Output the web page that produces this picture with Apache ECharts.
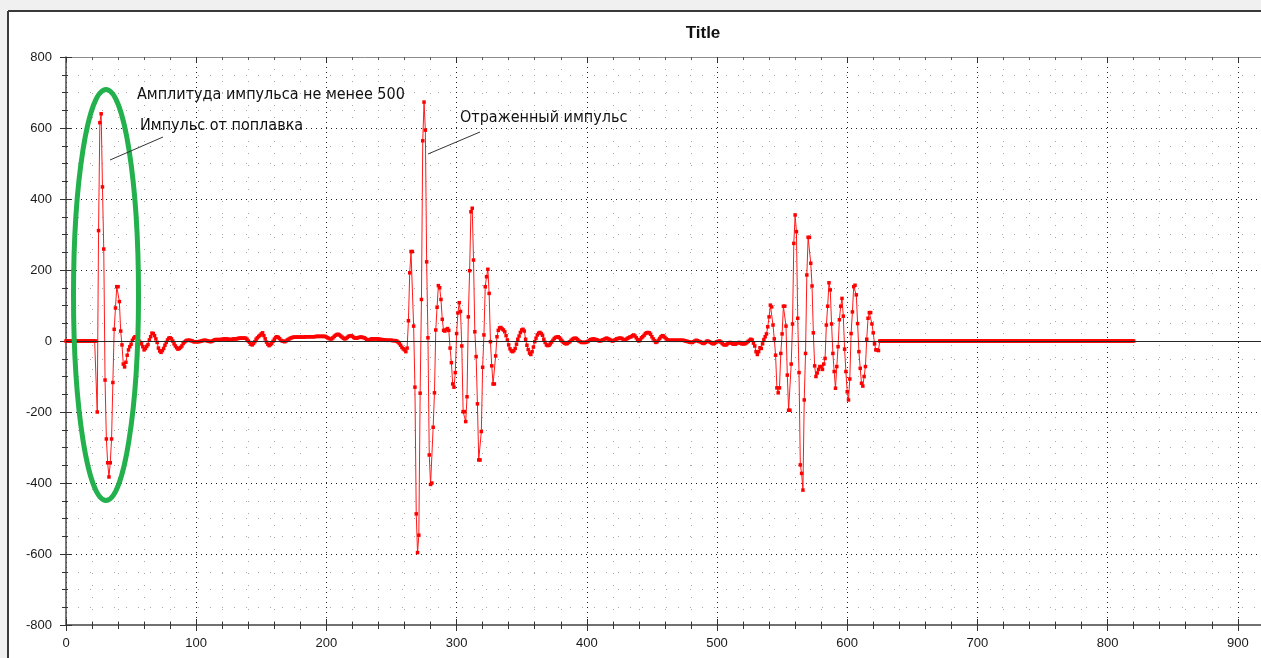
<!DOCTYPE html>
<html>
<head>
<meta charset="utf-8">
<script src="https://cdn.jsdelivr.net/npm/echarts@6.0.0/dist/echarts.min.js"></script>
<style>
html, body { margin: 0; padding: 0; background: #fff; }
#chart { width: 1261px; height: 658px; }
</style>
</head>
<body>
<div id="chart"></div>
<script>
// sample index of the first value, one sample per unit on x
var sampleStart = 0;

// flat start, samples 0..23
var leadZeros = [
  0,0,0,0,0,0,0,0,0,0,0,0,0,0,0,0,0,0,0,0,0,0,0,0
];
// pulse from the float, samples 24..45
var pulseFloat = [
  -200,311,615,640,434,259,-110,-276,-343,-383,-343,-276,-117,33,93,153,153,111,28,-11,-65,-73
];
// ringing after the first pulse, samples 46..261
var rippleFirst = [
  -60,-40,-25,-16,
  -9,2,8,12,12,6,0,-4,-8,-16,
  -25,-21,-15,-10,3,12,22,21,15,6,
  -4,-20,-28,-32,-27,-21,-12,-4,3,8,
  9,6,0,-8,-14,-19,-23,-21,-18,-14,
  -7,-3,0,2,2,2,1,0,-2,-2,
  -2,-2,-2,-1,0,1,2,2,1,0,
  -1,-2,-1,1,3,4,4,4,4,4,
  5,5,6,6,5,5,4,4,5,6,
  6,6,7,8,8,8,8,8,8,5,
  0,-4,-9,-11,-7,-2,5,9,13,16,
  20,23,15,6,-3,-9,-13,-10,-7,-1,
  5,10,12,10,7,2,0,-1,-2,0,
  3,5,7,9,10,11,11,11,11,11,
  11,11,11,11,12,12,12,12,12,12,
  12,12,13,13,13,13,13,13,13,13,
  11,9,7,6,6,9,13,16,18,19,
  17,14,11,8,6,7,10,13,14,15,
  13,10,8,8,9,10,11,11,10,9,
  7,4,2,3,5,6,6,6,6,6,
  5,5,4,4,3,3,2,2,2,2,
  2,1,1,1,0,-3,-7,-12,-18,-22,
  -25,-30
];
// reflected pulse, samples 262..333
var pulseReflected = [
  -20,57,192,252,252,42,-130,-487,
  -596,-547,-147,117,564,673,594,223,9,-321,
  -404,-400,-243,-146,31,95,156,150,117,61,
  30,28,32,35,30,-20,-61,-121,-130,-89,
  21,79,108,83,-14,-199,-199,-227,-157,68,
  198,364,374,228,26,-44,-177,-335,-335,-255,
  -74,17,153,181,202,134,-2,-70,-121,-121,
  -42,12,30,37
];
// ringing after the reflected pulse, samples 334..536
var rippleSecond = [
  38,34,31,26,15,3,
  -11,-22,-28,-30,-27,-21,-9,5,14,24,
  31,33,28,5,-12,-24,-34,-38,-30,-17,
  -2,8,17,22,24,21,16,5,-4,-11,
  -13,-12,-8,-3,2,7,10,11,12,9,
  5,0,-4,-6,-8,-7,-4,-2,2,5,
  7,8,7,4,0,-2,-4,-4,-4,-4,
  -3,-1,2,4,5,6,5,4,3,1,
  0,1,3,4,6,8,7,5,3,1,
  0,2,4,6,7,8,8,7,4,2,
  4,7,9,11,12,15,17,14,9,4,
  0,4,9,12,16,21,23,24,23,19,
  12,6,1,-4,-2,2,7,12,15,14,
  10,6,3,2,2,2,2,2,2,2,
  2,2,2,2,2,1,0,-1,-2,-3,
  -4,-4,-2,0,2,1,-1,-2,-4,-6,
  -7,-4,-1,0,-2,-4,-6,-8,-7,-4,
  -2,-1,0,-3,-7,-10,-11,-11,-8,-5,
  -4,-6,-8,-9,-9,-7,-5,-4,-6,-8,
  -8,-8,-7,-4,-1,2,5,3,-6,-14,
  -30,-38,-30,-19,-21,-8,4
];
// third burst, samples 537..624
var pulseThird = [
  12,20,40,
  68,101,96,45,6,-40,-132,-146,-132,-35,
  20,98,98,42,-96,-195,-195,-65,48,275,
  355,308,64,-89,-349,-373,-420,-166,-35,186,
  292,292,219,155,23,-70,-100,-90,-80,-72,
  -72,-80,-65,-49,45,98,164,144,48,-35,
  -86,-133,-72,-16,60,98,120,70,-23,-86,
  -143,-166,-107,21,82,153,157,130,49,-30,
  -77,-119,-127,-100,-72,5,64,80,80,48,
  23,-8,-25,-25,-27
];
// flat end, samples 625..820
var tailZeros = [
  0,0,0,0,0,0,0,0,0,0,0,0,0,0,0,0,0,0,0,0,
  0,0,0,0,0,0,0,0,0,0,0,0,0,0,0,0,0,0,0,0,
  0,0,0,0,0,0,0,0,0,0,0,0,0,0,0,0,0,0,0,0,
  0,0,0,0,0,0,0,0,0,0,0,0,0,0,0,0,0,0,0,0,
  0,0,0,0,0,0,0,0,0,0,0,0,0,0,0,0,0,0,0,0,
  0,0,0,0,0,0,0,0,0,0,0,0,0,0,0,0,0,0,0,0,
  0,0,0,0,0,0,0,0,0,0,0,0,0,0,0,0,0,0,0,0,
  0,0,0,0,0,0,0,0,0,0,0,0,0,0,0,0,0,0,0,0,
  0,0,0,0,0,0,0,0,0,0,0,0,0,0,0,0,0,0,0,0,
  0,0,0,0,0,0,0,0,0,0,0,0,0,0,0,0
];

// axis ranges and label steps
var xRange = [0, 1000], xStep = 100;
var yRange = [-800, 800], yStep = 200;

var chartTitle = 'Title';
var noteAmplitude = 'Амплитуда импульса не менее 500';
var noteFloat = 'Импульс от поплавка';
var noteReflected = 'Отраженный импульс';

var signal = [].concat(leadZeros, pulseFloat, rippleFirst, pulseReflected, rippleSecond, pulseThird, tailZeros);
var points = signal.map(function (v, i) { return [sampleStart + i, v]; });

var majorGrid = { color: '#1e1e1e', type: [1, 4], width: 1 };
var minorGrid = { color: '#a8a8a8', type: [1, 11], width: 1 };
var labelFont = {
  color: '#1a1a1a', fontSize: 13, fontFamily: 'Liberation Sans, Arial, sans-serif',
  formatter: function (v) { return String(v); }
};
var noteFont = '16px "DejaVu Sans Condensed", "DejaVu Sans", sans-serif';

var chart = echarts.init(document.getElementById('chart'));

var option = {
  animation: false,
  backgroundColor: '#ffffff',
  grid: { left: 66, top: 57, width: 1302, height: 568, outerBoundsMode: 'none', containLabel: false },
  xAxis: [
    {
      type: 'value', min: xRange[0], max: xRange[1], interval: xStep, position: 'bottom',
      axisLine: { onZero: false, lineStyle: { color: '#707070', width: 2 } },
      axisTick: { length: 6, lineStyle: { color: '#333' } },
      minorTick: { show: true, splitNumber: 5, length: 4, lineStyle: { color: '#333' } },
      axisLabel: Object.assign({ margin: 12 }, labelFont),
      splitLine: { show: true, lineStyle: majorGrid },
      minorSplitLine: { show: true, lineStyle: minorGrid }
    },
    {
      type: 'value', min: xRange[0], max: xRange[1], interval: xStep, position: 'bottom',
      axisLine: { show: false, onZero: false },
      axisTick: { inside: true, length: 6, lineStyle: { color: '#333' } },
      minorTick: { show: true, splitNumber: 5, length: 3, lineStyle: { color: '#333' } },
      axisLabel: { show: false },
      splitLine: { show: false }
    },
    {
      type: 'value', min: xRange[0], max: xRange[1], interval: xStep, position: 'top',
      axisLine: { show: true, onZero: false, lineStyle: { color: '#8c8c8c', width: 1 } },
      axisTick: { inside: true, length: 5, lineStyle: { color: '#333' } },
      minorTick: { show: true, splitNumber: 5, length: 3, lineStyle: { color: '#555' } },
      axisLabel: { show: false },
      splitLine: { show: false }
    }
  ],
  yAxis: [
    {
      type: 'value', min: yRange[0], max: yRange[1], interval: yStep, position: 'left',
      axisLine: { show: true, onZero: false, lineStyle: { color: '#4d4d4d', width: 1.5 } },
      axisTick: { length: 6, lineStyle: { color: '#333' } },
      minorTick: { show: true, splitNumber: 4, length: 4, lineStyle: { color: '#333' } },
      axisLabel: Object.assign({ margin: 14 }, labelFont),
      splitLine: { show: true, lineStyle: majorGrid },
      minorSplitLine: { show: true, lineStyle: minorGrid }
    },
    {
      type: 'value', min: yRange[0], max: yRange[1], interval: yStep, position: 'left',
      axisLine: { show: false, onZero: false },
      axisTick: { inside: true, length: 6, lineStyle: { color: '#333' } },
      minorTick: { show: true, splitNumber: 4, length: 2, lineStyle: { color: '#333' } },
      axisLabel: { show: false },
      splitLine: { show: false }
    }
  ],
  series: [{
    type: 'line',
    xAxisIndex: 0,
    yAxisIndex: 0,
    data: points,
    showSymbol: true,
    showAllSymbol: true,
    symbol: 'rect',
    symbolSize: 3.5,
    sampling: null,
    silent: true,
    itemStyle: { color: '#ff0000' },
    lineStyle: { color: '#ff1a1a', width: 1 },
    markLine: {
      silent: true,
      symbol: ['none', 'none'],
      label: { show: false },
      lineStyle: { color: '#262626', type: 'solid', width: 1.2 },
      data: [{ yAxis: 0 }]
    }
  }],
  graphic: [
    { type: 'rect', shape: { x: 0, y: 0, width: 1261, height: 10 }, style: { fill: '#f0f0f0' }, silent: true },
    { type: 'rect', shape: { x: 0, y: 0, width: 7, height: 658 }, style: { fill: '#f0f0f0' }, silent: true },
    { type: 'line', shape: { x1: 8, y1: 11, x2: 1261, y2: 11 }, style: { stroke: '#3a3a3a', lineWidth: 2 }, silent: true },
    { type: 'line', shape: { x1: 8, y1: 11, x2: 8, y2: 658 }, style: { stroke: '#3a3a3a', lineWidth: 2 }, silent: true },
    {
      type: 'text', x: 703, y: 33, z: 100, silent: true,
      style: { text: chartTitle, fill: '#111', font: 'bold 17px "Liberation Sans", Arial, sans-serif', align: 'center', verticalAlign: 'middle' }
    },
    {
      type: 'ellipse', z: 100, silent: true,
      shape: { cx: 106, cy: 295, rx: 32.5, ry: 205.5 },
      style: { fill: 'none', stroke: '#22b14c', lineWidth: 5 }
    },
    {
      type: 'text', x: 137, y: 95, z: 100, silent: true,
      style: { text: noteAmplitude, fill: '#111', font: noteFont, align: 'left', verticalAlign: 'middle' }
    },
    {
      type: 'text', x: 140, y: 126, z: 100, silent: true,
      style: { text: noteFloat, fill: '#111', font: noteFont, align: 'left', verticalAlign: 'middle' }
    },
    {
      type: 'text', x: 460, y: 118, z: 100, silent: true,
      style: { text: noteReflected, fill: '#111', font: noteFont, align: 'left', verticalAlign: 'middle' }
    },
    { type: 'line', z: 100, silent: true, shape: { x1: 110, y1: 160, x2: 163, y2: 137 }, style: { stroke: '#333', lineWidth: 1 } },
    { type: 'line', z: 100, silent: true, shape: { x1: 428, y1: 154, x2: 480, y2: 132 }, style: { stroke: '#333', lineWidth: 1 } }
  ]
};

chart.setOption(option);
</script>
</body>
</html>
